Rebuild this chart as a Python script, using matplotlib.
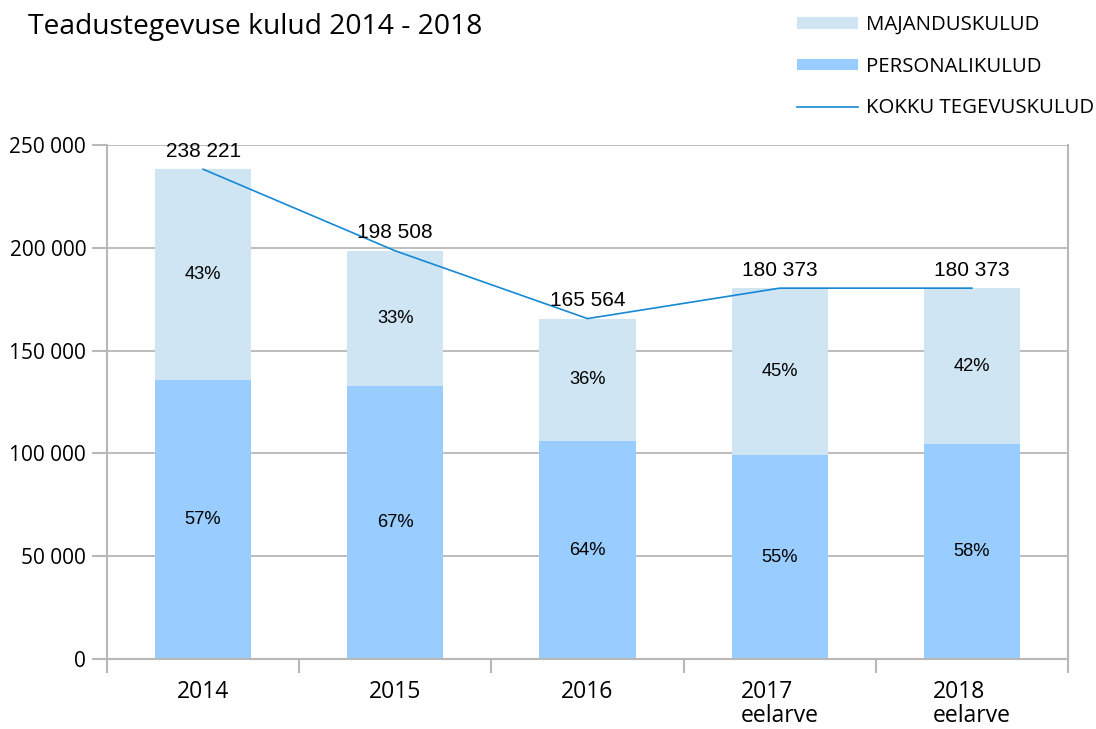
import matplotlib
matplotlib.use("Agg")
import matplotlib.pyplot as plt
from matplotlib.patches import Patch
from matplotlib.lines import Line2D
import numpy as np

categories = ["2014", "2015", "2016", "2017\neelarve", "2018\neelarve"]
totals = [238221, 198508, 165564, 180373, 180373]
personal_pct = [57, 67, 64, 55, 58]
majandus_pct = [43, 33, 36, 45, 42]
total_labels = ["238 221", "198 508", "165 564", "180 373", "180 373"]
yticks = [0, 50000, 100000, 150000, 200000, 250000]
ytick_labels = ["0", "50 000", "100 000", "150 000", "200 000", "250 000"]

c_maj = "#cfe5f3"
c_pers = "#99ccff"
c_line = "#1589d6"
c_grid = "#b8b8b8"

plt.rcParams['font.family'] = ['Open Sans', 'DejaVu Sans']

fig = plt.figure(figsize=(10.96, 7.29), dpi=100)
ax = fig.add_axes([107/1096, 1-659/729, (1068-107)/1096, (659-145)/729])

x = np.arange(len(categories))
totals_a = np.array(totals, dtype=float)
pers = totals_a * np.array(personal_pct) / 100
maj = totals_a - pers

ax.bar(x, pers, width=0.5, color=c_pers, zorder=2)
ax.bar(x, maj, width=0.5, bottom=pers, color=c_maj, zorder=2)
ax.plot(x, totals_a, color=c_line, lw=1.2, zorder=3)

for i in range(len(x)):
    ax.text(x[i], totals_a[i] + 4200, total_labels[i], ha='center', va='bottom',
            fontsize=15, family=['Liberation Sans'], zorder=4)
    ax.text(x[i], pers[i] / 2, f"{personal_pct[i]}%", ha='center', va='center',
            fontsize=13.2, family=['Liberation Sans'], zorder=4)
    ax.text(x[i], pers[i] + maj[i] / 2, f"{majandus_pct[i]}%", ha='center', va='center',
            fontsize=13.2, family=['Liberation Sans'], zorder=4)

ax.set_xlim(-0.5, len(x) - 0.5)
ax.set_ylim(0, 250000)
ax.set_yticks(yticks)
ax.set_yticklabels(ytick_labels, fontsize=15)
ax.set_xticks(x)
ax.set_xticklabels(categories, fontsize=16.5, linespacing=1.0)
for lab in ax.get_xticklabels():
    lab.set_horizontalalignment('center')
    lab.set_multialignment('left')
ax.set_xticks(np.arange(len(x) + 1) - 0.5, minor=True)
ax.tick_params(axis='x', which='major', length=0, pad=15)
ax.tick_params(axis='x', which='minor', length=10, width=1.5, color=c_grid, direction='out')
ax.tick_params(axis='y', length=11, width=1.5, color=c_grid, pad=4)
ax.grid(axis='y', color=c_grid, lw=1.3, zorder=0)
ax.set_axisbelow(True)
for s in ['left', 'bottom', 'right']:
    ax.spines[s].set_color(c_grid)
    ax.spines[s].set_linewidth(1.5)
ax.spines['top'].set_visible(False)

fig.text(28/1096, 1-27/729, "Teadustegevuse kulud 2014 - 2018", fontsize=20.3,
         ha='left', va='center')

handles = [Patch(facecolor=c_maj, edgecolor='none'),
           Patch(facecolor=c_pers, edgecolor='none'),
           Line2D([0], [0], color=c_line, lw=1.2)]
labels = ["MAJANDUSKULUD", "PERSONALIKULUD", "KOKKU TEGEVUSKULUD"]
fig.legend(handles, labels, loc='upper left', bbox_to_anchor=(797/1096, 1-15/729),
           frameon=False, fontsize=14.7, handlelength=3.0, handleheight=0.5,
           handletextpad=0.4, labelspacing=1.06, borderpad=0, borderaxespad=0)

fig.savefig("out.png", dpi=100)
